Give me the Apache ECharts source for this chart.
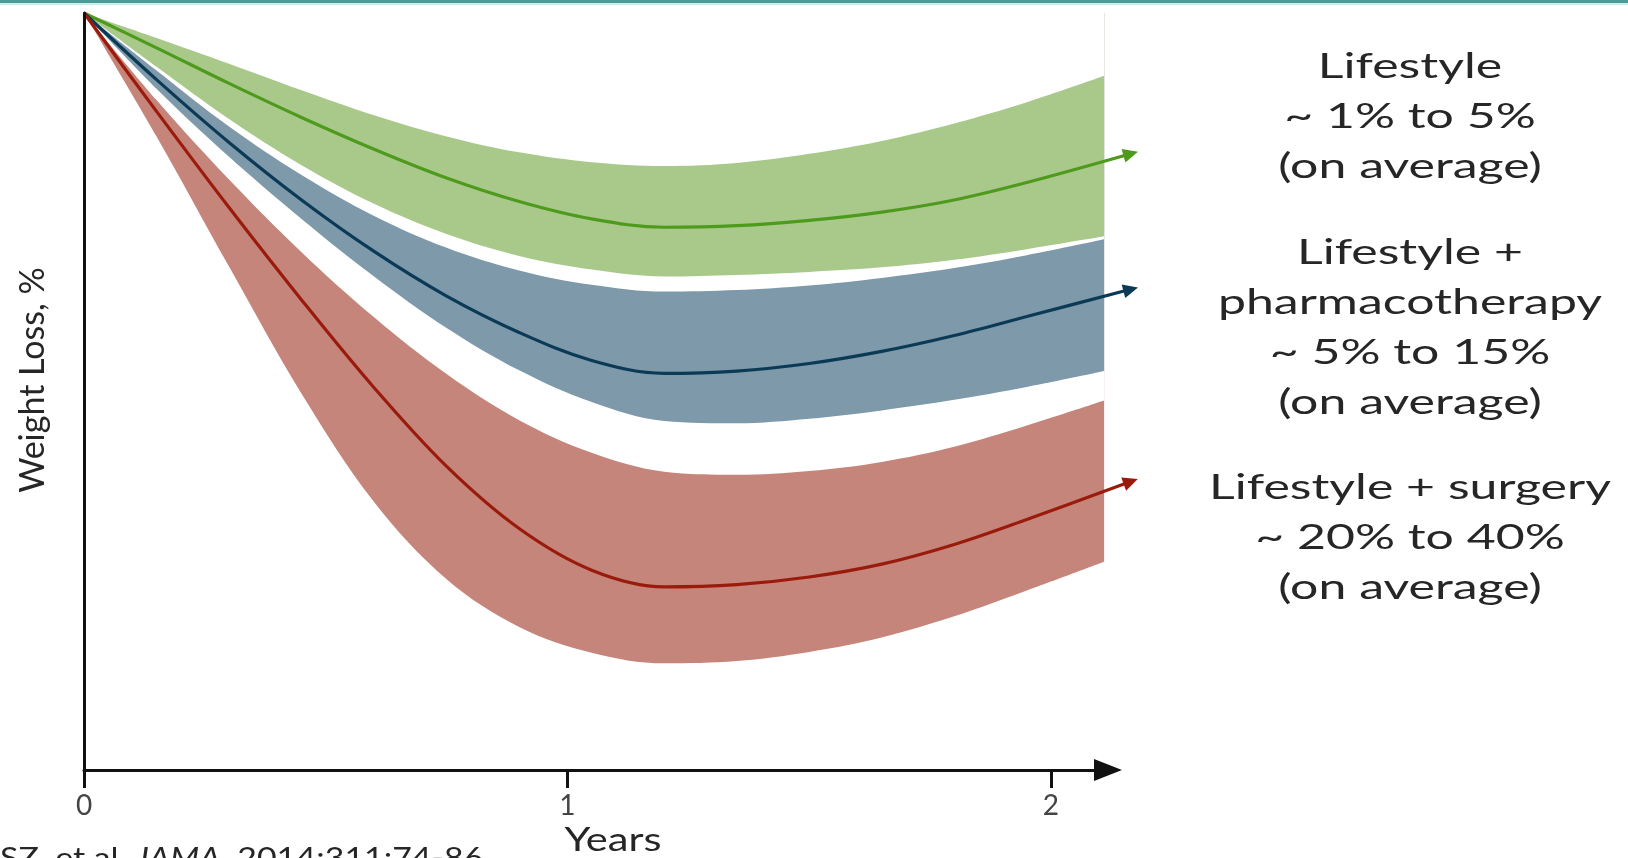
<!DOCTYPE html>
<html>
<head>
<meta charset="utf-8">
<script src="https://cdn.jsdelivr.net/npm/echarts@6/dist/echarts.min.js"></script>
<style>
html,body{margin:0;padding:0;background:#ffffff;}
#c{width:1628px;height:858px;}
</style>
</head>
<body>
<div id="c"></div>
<script>
// ---- data (schematic weight-loss trajectories, arbitrary % scale, 0 = start) ----
const years     = [0, 0.15, 0.3, 0.45, 0.6, 0.75, 0.9, 1.05, 1.2, 1.35, 1.5, 1.65, 1.8, 1.95, 2.11];
const lineYears = [0, 0.15, 0.3, 0.45, 0.6, 0.75, 0.9, 1.05, 1.2, 1.35, 1.5, 1.65, 1.8, 1.95, 2.165];

const greenUpper = [0, 3.3, 6.7, 10.2, 13.5, 16.3, 18.4, 19.7, 20.2, 19.8, 18.6, 16.9, 14.6, 11.8, 8.3];
const greenMean  = [0, 4.6, 9.3, 13.8, 18.0, 21.8, 24.9, 27.2, 28.3, 28.1, 27.4, 26.3, 24.7, 22.4, 18.6];
const greenLower = [0, 7.1, 14.0, 20.1, 25.2, 29.2, 32.1, 33.9, 34.8, 34.6, 34.2, 33.6, 32.6, 31.2, 29.5];

const blueUpper  = [0, 7.6, 15.0, 21.4, 26.8, 31.0, 34.0, 35.9, 36.8, 36.6, 36.0, 35.0, 33.7, 32.0, 29.9];
const blueMean   = [0, 8.8, 17.1, 24.7, 31.5, 37.4, 42.2, 45.9, 47.6, 47.3, 46.3, 44.7, 42.6, 40.1, 36.5];
const blueLower  = [0, 10.0, 19.0, 27.2, 34.8, 41.6, 47.2, 51.4, 53.9, 54.2, 53.6, 52.5, 51.1, 49.4, 47.3];

const redUpper   = [0, 11.5, 22.0, 31.6, 40.2, 47.7, 53.8, 58.1, 60.6, 61.0, 60.5, 59.3, 57.3, 54.5, 51.2];
const redMean    = [0, 13.0, 25.7, 37.9, 49.5, 59.9, 68.1, 73.6, 75.8, 75.5, 74.5, 72.8, 70.2, 66.9, 61.9];
const redLower   = [0, 16.3, 33.5, 50.3, 64.6, 74.8, 81.1, 84.5, 85.9, 85.6, 84.4, 82.5, 79.7, 76.3, 72.5];

const xTickValues = [0, 1, 2];
const xName = 'Years';
const yName = 'Weight Loss, %';
const groupLabels = [
  'Lifestyle\n~ 1% to 5%\n(on average)',
  'Lifestyle +\npharmacotherapy\n~ 5% to 15%\n(on average)',
  'Lifestyle + surgery\n~ 20% to 40%\n(on average)'
];
const sourceParts = ['SZ, et al. ', 'JAMA', '. 2014;311:74-86.'];

// ---- styles / layout ----
const COL = {
  greenBand: '#a9c98b', greenLine: '#4e9a1c',
  blueBand: '#7e99aa', blueLine: '#0b3a57',
  redBand: '#c6857b', redLine: '#9a1b0b',
  axis: '#111111', text: '#262626', white: '#ffffff'
};
const FONT = 'Lato, "Open Sans", sans-serif';
const SMOOTH = 0.35;
const W = 1628, GL = 84, GR = 520, GT = 13, GB = 88;
const X_MAX = 2.118, X_MAX_LINES = 2.2;
const pxPerYear = (W - GL - GR) / X_MAX;
const GR2 = W - GL - X_MAX_LINES * pxPerYear;   // same scale, wider grid for arrow tails

function pairs(xs, ys) { return xs.map((x, i) => [x, ys[i]]); }

function areaSeries(name, ys, color) {
  return {
    name: name, type: 'line', data: pairs(years, ys),
    xAxisIndex: 0, yAxisIndex: 0,
    smooth: SMOOTH, symbol: 'none', silent: true,
    lineStyle: { width: 0, opacity: 0 },
    areaStyle: { color: color, opacity: 1, origin: 'start' },
    z: 2
  };
}
function meanSeries(name, ys, color, rot) {
  const d = pairs(lineYears, ys);
  const last = d.length - 1;
  const data = d.map((p, i) => i === last
    ? { value: p, symbol: 'triangle', symbolSize: [14, 15], symbolRotate: rot, itemStyle: { color: color } }
    : { value: p, symbol: 'none' });
  return {
    name: name, type: 'line', data: data,
    xAxisIndex: 1, yAxisIndex: 1,
    smooth: SMOOTH, showSymbol: true, showAllSymbol: true, silent: true,
    lineStyle: { width: 3.2, color: color }, itemStyle: { color: color },
    z: 5
  };
}

const textStyleBase = { fill: COL.text, textAlign: 'center', textVerticalAlign: 'middle', align: 'center', verticalAlign: 'middle' };

const option = {
  animation: false,
  backgroundColor: '#ffffff',
  grid: [
    { left: GL, right: GR, top: GT, bottom: GB, containLabel: false },
    { left: GL, right: GR2, top: GT, bottom: GB, containLabel: false }
  ],
  xAxis: [{
    gridIndex: 0, type: 'value', min: 0, max: X_MAX,
    position: 'bottom',
    axisLine: { show: true, onZero: false, lineStyle: { color: COL.axis, width: 3 },
      symbol: ['none', 'triangle'], symbolSize: [22, 28] },
    axisTick: { show: true, customValues: xTickValues, length: 18, inside: false,
      lineStyle: { color: COL.axis, width: 3 } },
    axisLabel: { show: true, customValues: xTickValues, fontSize: 28, color: '#444',
      fontFamily: FONT, margin: 22 },
    splitLine: { show: false },
    z: 10
  }, {
    gridIndex: 1, type: 'value', min: 0, max: X_MAX_LINES, show: false
  }],
  yAxis: [{
    gridIndex: 0, type: 'value', min: 0, max: 100, inverse: true,
    axisLine: { show: true, onZero: false, lineStyle: { color: COL.axis, width: 3 } },
    axisTick: { show: false }, axisLabel: { show: false }, splitLine: { show: false },
    z: 10
  }, {
    gridIndex: 1, type: 'value', min: 0, max: 100, inverse: true, show: false
  }],
  series: [
    areaSeries('Lifestyle + surgery range', redLower, COL.redBand),
    areaSeries('surgery gap', redUpper, COL.white),
    areaSeries('Lifestyle + pharmacotherapy range', blueLower, COL.blueBand),
    areaSeries('pharmacotherapy gap', blueUpper, COL.white),
    areaSeries('Lifestyle range', greenLower, COL.greenBand),
    areaSeries('lifestyle gap', greenUpper, COL.white),
    meanSeries('Lifestyle', greenMean, COL.greenLine, -76),
    meanSeries('Lifestyle + pharmacotherapy', blueMean, COL.blueLine, -76),
    meanSeries('Lifestyle + surgery', redMean, COL.redLine, -70)
  ],
  graphic: [
    { type: 'rect', left: 0, top: 0, shape: { width: W, height: 3 }, style: { fill: '#4f9999' }, z: 100 },
    { type: 'rect', left: 0, top: 3, shape: { width: W, height: 2 }, style: { fill: '#d6e8e8' }, z: 100 },
    { type: 'text', x: 1410, y: 117, scaleX: 1.47, z: 100,
      style: Object.assign({ text: groupLabels[0], font: '34px ' + FONT, lineHeight: 50 }, textStyleBase) },
    { type: 'text', x: 1410, y: 328, scaleX: 1.47, z: 100,
      style: Object.assign({ text: groupLabels[1], font: '34px ' + FONT, lineHeight: 50 }, textStyleBase) },
    { type: 'text', x: 1410, y: 538, scaleX: 1.47, z: 100,
      style: Object.assign({ text: groupLabels[2], font: '34px ' + FONT, lineHeight: 50 }, textStyleBase) },
    { type: 'text', x: 33, y: 380, rotation: Math.PI / 2, z: 100,
      style: Object.assign({ text: yName, font: '34px ' + FONT }, textStyleBase) },
    { type: 'text', x: 613, y: 841, scaleX: 1.3, z: 100,
      style: Object.assign({ text: xName, font: '32px ' + FONT }, textStyleBase) },
    { type: 'text', x: 0, y: 845, scaleX: 1.21, z: 100,
      style: { text: '{a|' + sourceParts[0] + '}{b|' + sourceParts[1] + '}{a|' + sourceParts[2] + '}',
        fill: COL.text, font: '28px ' + FONT, textAlign: 'left', textVerticalAlign: 'top', align: 'left', verticalAlign: 'top',
        rich: { a: { fontSize: 28, fontFamily: FONT, fill: COL.text, color: COL.text },
                b: { fontSize: 28, fontFamily: FONT, fontStyle: 'italic', fill: COL.text, color: COL.text } } } }
  ]
};

const chart = echarts.init(document.getElementById('c'), null, { renderer: 'canvas' });
chart.setOption(option);

// orient arrowheads along the end of each mean line (through the chart's own scales)
function arrowRotate(ys) {
  const n = lineYears.length;
  const a = chart.convertToPixel({ gridIndex: 1 }, [lineYears[n - 2], ys[n - 2]]);
  const b = chart.convertToPixel({ gridIndex: 1 }, [lineYears[n - 1], ys[n - 1]]);
  const ang = Math.atan2(-(b[1] - a[1]), b[0] - a[0]) * 180 / Math.PI;
  return ang - 90;
}
const means = [[6, greenMean, COL.greenLine], [7, blueMean, COL.blueLine], [8, redMean, COL.redLine]];
const upd = option.series.map(() => ({}));
means.forEach(([idx, ys, color]) => {
  const s = meanSeries(option.series[idx].name, ys, color, arrowRotate(ys));
  upd[idx] = { data: s.data };
});
chart.setOption({ series: upd });
</script>
</body>
</html>
